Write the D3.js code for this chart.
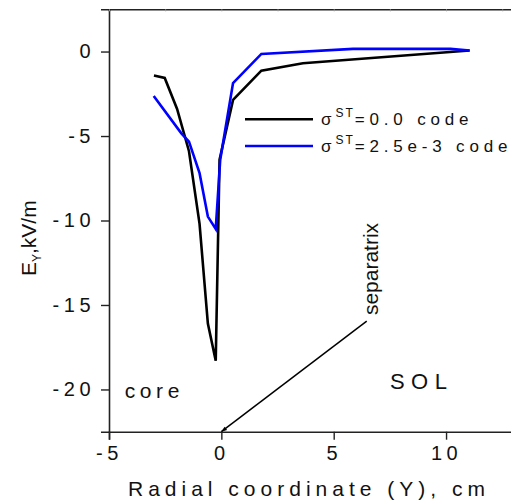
<!DOCTYPE html>
<html><head><meta charset="utf-8">
<script src="https://cdn.jsdelivr.net/npm/d3@7"></script>
<style>
html,body{margin:0;padding:0;background:#fff;}
svg{display:block;font-family:Arial,"Liberation Sans",sans-serif;}
</style></head>
<body><svg id="c" width="511" height="504"></svg>
<script>
// Data
const xBlack = [-3.0, -2.52, -1.97, -1.44, -0.97, -0.6, -0.25, -0.08, 0.52, 1.78, 3.63, 11.05];
const yBlack = [-1.42, -1.56, -3.4, -5.9, -10.2, -16.1, -18.3, -6.4, -2.86, -1.13, -0.69, 0.06];
const xBlue = [-3.01, -1.78, -1.44, -0.97, -0.6, -0.25, -0.05, 0.52, 1.78, 5.86, 10.2, 11.05];
const yBlue = [-2.63, -4.84, -5.33, -7.2, -9.77, -10.5, -6.4, -1.87, -0.14, 0.16, 0.16, 0.06];
const seriesNames = ["0.0 code", "2.5e-3 code"];
const seriesColors = ["#000000", "#0000ff"];
const xTicks = [-5, 0, 5, 10];
const xMinor = [-2.5, 2.5, 7.5, 12.5];
const yTicks = [0, -5, -10, -15, -20];
const yMinor = [-2.5, -7.5, -12.5, -17.5, -22.5];

const svg = d3.select("#c");
const L = 109, T = 9.3, B = 431.7, R = 109 + 20 * 22.47;
const x = d3.scaleLinear().domain([-5, 15]).range([L, R]);
const y = d3.scaleLinear().domain([-22.5, 2.5]).range([B, T]);
const axisColor = "#222";
const FONT = "Arial, Liberation Sans, sans-serif";

// Axes
const gx = svg.append("g").attr("transform", `translate(0,${B})`);
gx.call(d3.axisBottom(x).tickValues(xMinor).tickSize(4).tickFormat(""));
gx.call(d3.axisBottom(x).tickValues(xTicks).tickSize(8).tickPadding(6).tickFormat(d => d));
gx.selectAll("path.domain").attr("stroke-width", 1.6).attr("stroke", axisColor);
gx.selectAll("line").attr("stroke-width", 1.4).attr("stroke", axisColor);
gx.selectAll("text").attr("font-size", 20).attr("letter-spacing", "4.5px").attr("fill", "#111")
  .attr("font-family", FONT);

const gy = svg.append("g").attr("transform", `translate(${L},0)`);
gy.call(d3.axisLeft(y).tickValues(yMinor).tickSize(4).tickFormat(""));
gy.call(d3.axisLeft(y).tickValues(yTicks).tickSize(8).tickPadding(6).tickFormat(d => d));
gy.selectAll("path.domain").attr("stroke-width", 1.6).attr("stroke", axisColor);
gy.selectAll("line").attr("stroke-width", 1.4).attr("stroke", axisColor);
gy.selectAll("text").attr("font-size", 20).attr("letter-spacing", "4.5px").attr("fill", "#111")
  .attr("font-family", FONT);

// Top frame line with tiny inward ticks
const gt = svg.append("g").attr("transform", `translate(0,${T})`);
gt.call(d3.axisTop(x).tickValues(xTicks.concat(xMinor)).tickSize(-2).tickFormat(""));
gt.selectAll("path.domain").attr("stroke-width", 1.6).attr("stroke", axisColor);
gt.selectAll("line").attr("stroke-width", 1).attr("stroke", "#999");

// Lines
const line = d3.line().x(d => x(d[0])).y(d => y(d[1]));
const data = [d3.zip(xBlack, yBlack), d3.zip(xBlue, yBlue)];
svg.selectAll("path.series").data(data).enter().append("path")
  .attr("class", "series").attr("d", line).attr("fill", "none")
  .attr("stroke", (d, i) => seriesColors[i]).attr("stroke-width", 2.6)
  .attr("stroke-linejoin", "miter");

// Legend
const lg = svg.append("g");
const legY = [119.3, 146];
seriesNames.forEach((n, i) => {
  lg.append("line").attr("x1", 245).attr("x2", 313).attr("y1", legY[i]).attr("y2", legY[i])
    .attr("stroke", seriesColors[i]).attr("stroke-width", 2.6);
  const t = lg.append("text").attr("x", 321).attr("y", legY[i] + 6).attr("font-size", 17).attr("fill", "#111");
  t.append("tspan").text("σ");
  t.append("tspan").attr("font-size", 12).attr("dy", -8).attr("dx", 4).attr("letter-spacing", "2px").text("ST");
  t.append("tspan").attr("dy", 8).attr("letter-spacing", "4.8px").text("=" + n);
});

// Axis titles
svg.append("text").attr("x", 128).attr("y", 496).attr("font-size", 21)
  .attr("letter-spacing", "5px").attr("fill", "#111")
  .text("Radial coordinate (Y), cm");
const yl = svg.append("text").attr("transform", "translate(36,276) rotate(-90)")
  .attr("font-size", 21).attr("fill", "#111");
yl.append("tspan").text("E");
yl.append("tspan").attr("font-size", 12).attr("dy", 5).text("Y");
yl.append("tspan").attr("dy", -5).text(",kV/m");

// Annotations
svg.append("text").attr("x", x(-4.3)).attr("y", y(-20.5)).attr("font-size", 21)
  .attr("letter-spacing", "4.6px").attr("fill", "#111").text("core");
svg.append("text").attr("x", x(7.5)).attr("y", y(-19.95)).attr("font-size", 22)
  .attr("letter-spacing", "6.5px").attr("fill", "#111").text("SOL");
svg.append("text").attr("transform", `translate(${x(6.98)},${y(-15.6)}) rotate(-90)`)
  .attr("font-size", 21).attr("fill", "#111").text("separatrix");
svg.append("line").attr("x1", x(6.47)).attr("y1", y(-15.96)).attr("x2", x(0)).attr("y2", y(-22.5))
  .attr("stroke", "#000").attr("stroke-width", 1.5);
// small arrowhead at the separatrix end
const ax = x(0), ay = y(-22.5);
const ang = Math.atan2(y(-15.96) - ay, x(6.47) - ax);
const hl = 6, hw = 0.35;
svg.append("path").attr("d", `M${ax},${ay}L${ax + hl * Math.cos(ang - hw)},${ay + hl * Math.sin(ang - hw)}L${ax + hl * Math.cos(ang + hw)},${ay + hl * Math.sin(ang + hw)}Z`)
  .attr("fill", "#000");
</script></body></html>
